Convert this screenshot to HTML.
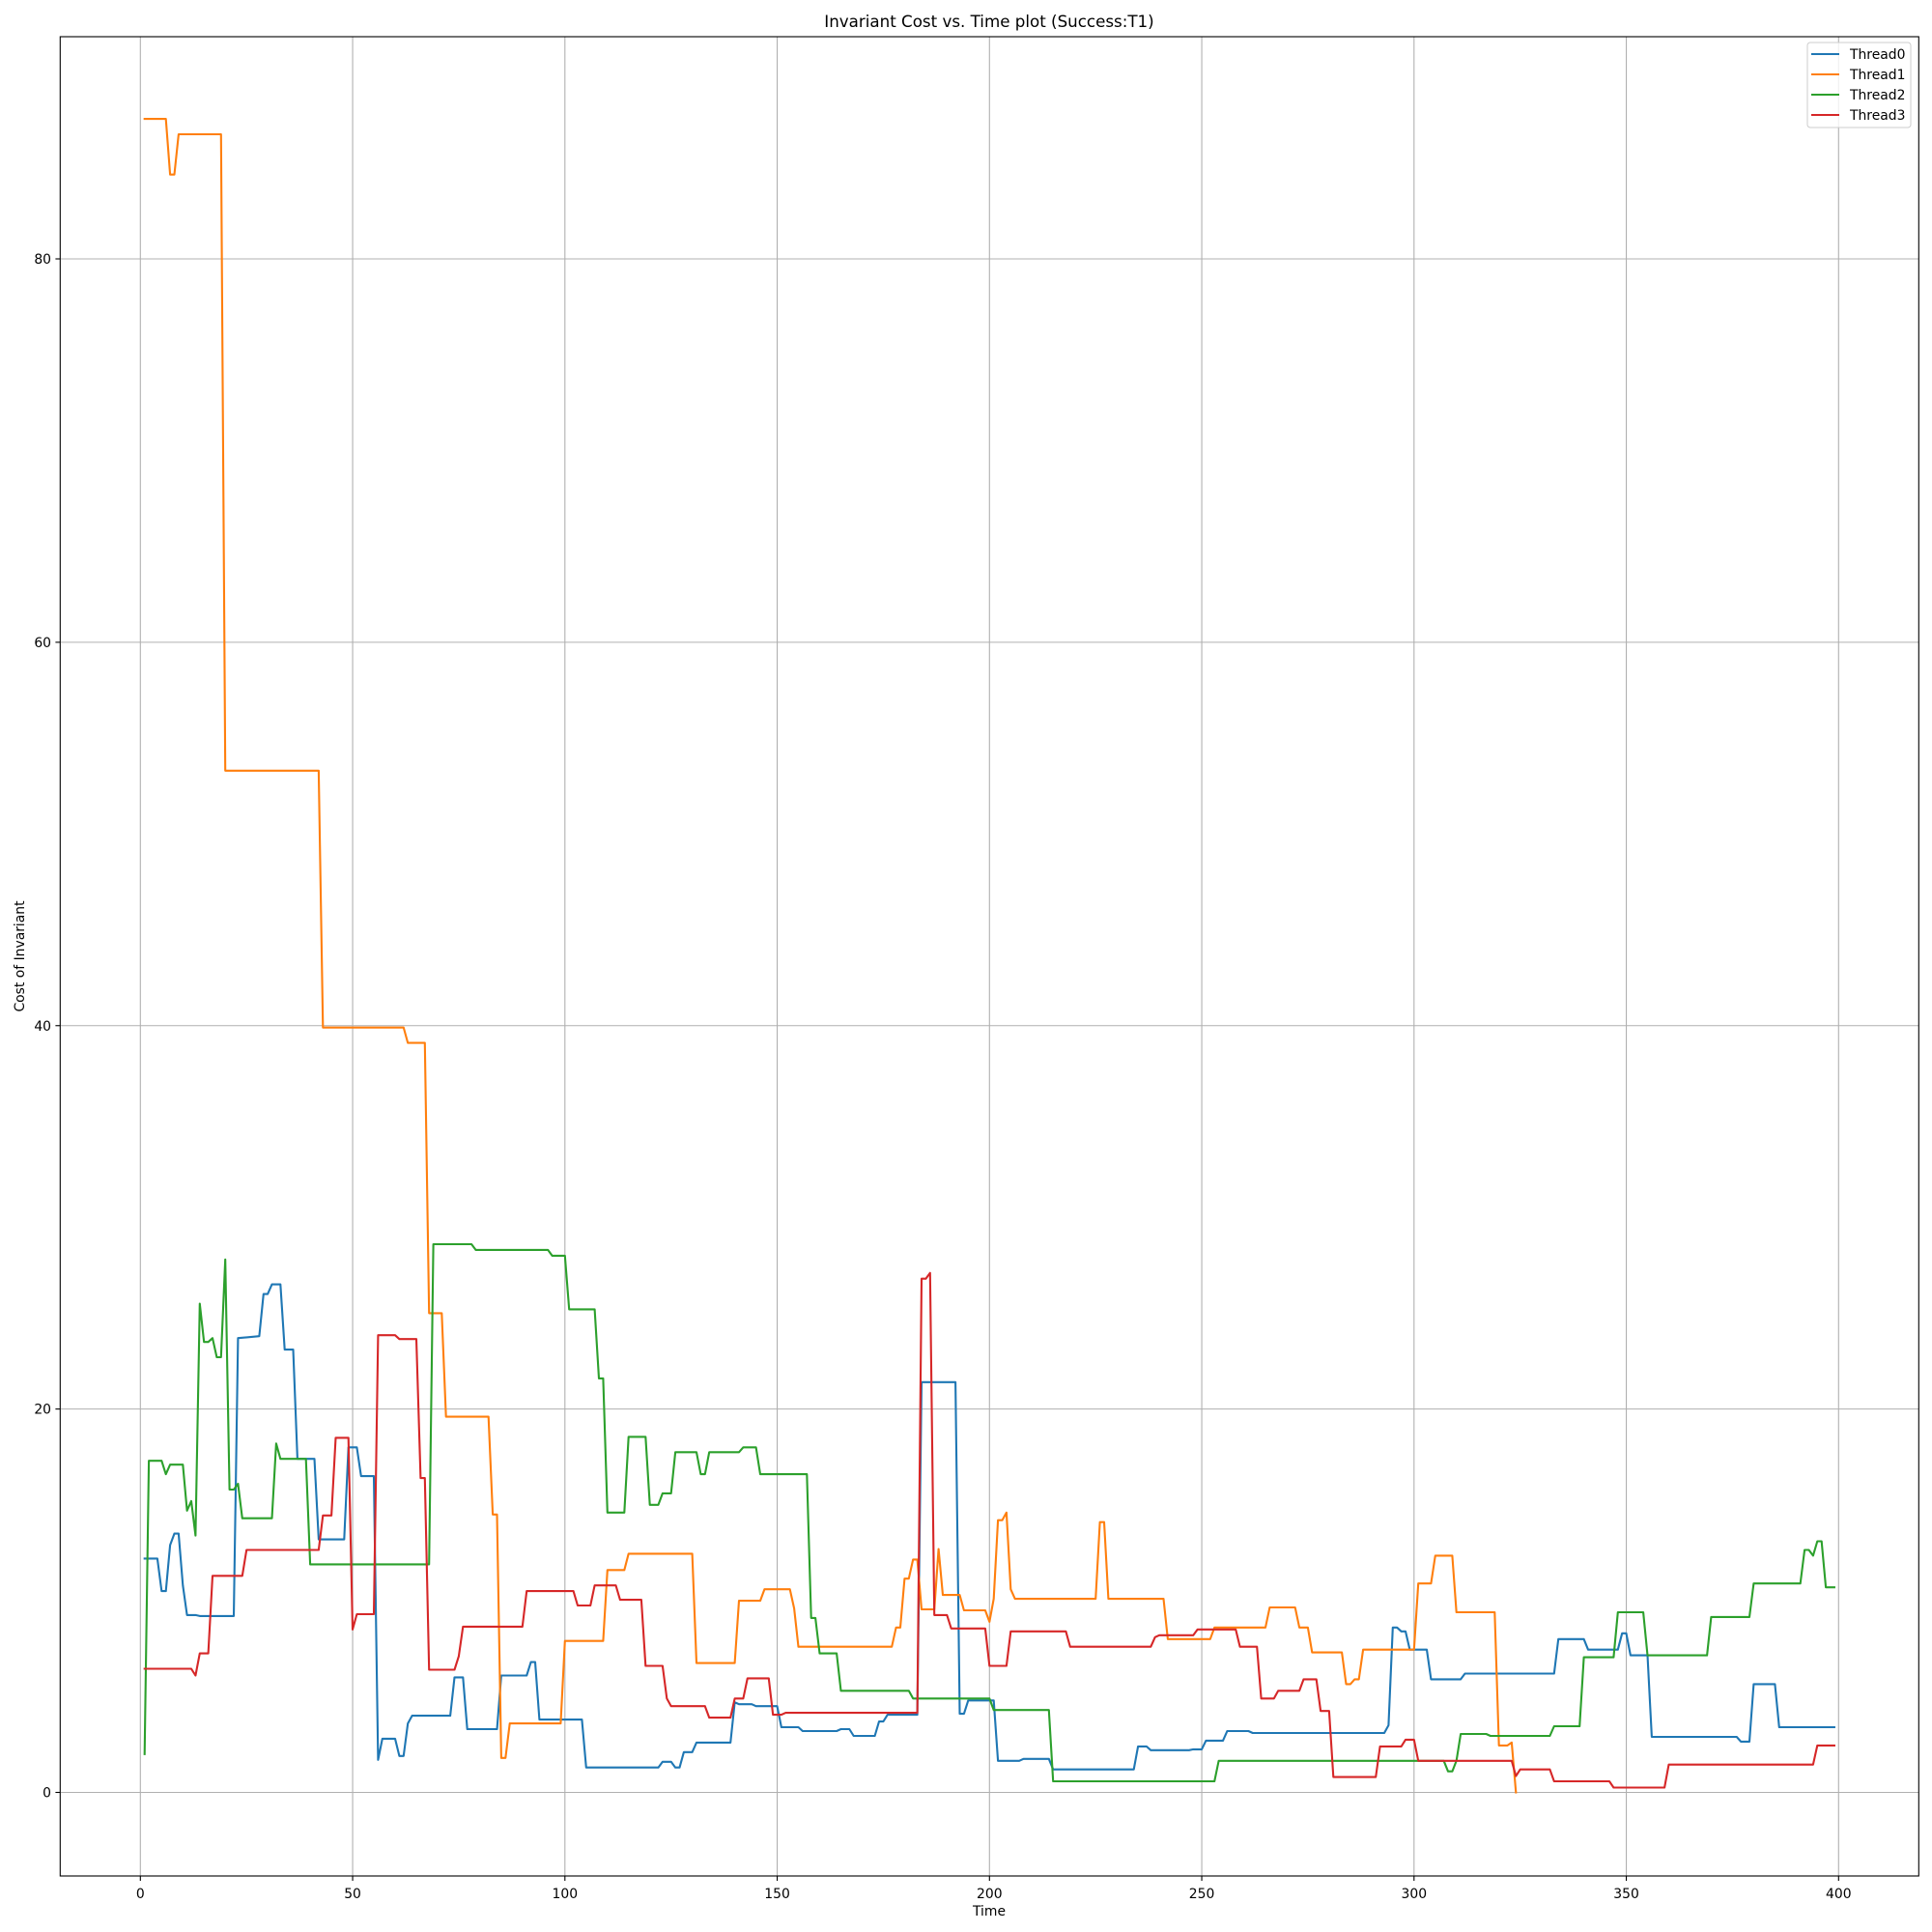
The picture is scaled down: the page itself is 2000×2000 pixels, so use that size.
<!DOCTYPE html>
<html><head><meta charset="utf-8"><style>
html,body{margin:0;padding:0;background:#fff;}
svg{display:block;font-family:"DejaVu Sans","Liberation Sans",sans-serif;}
</style></head><body>
<svg id="chart" width="2000" height="2000" viewBox="0 0 2000 2000" xmlns="http://www.w3.org/2000/svg">
<rect x="0" y="0" width="2000" height="2000" fill="#fff"/>
<g id="grid"></g>
<g id="series"></g>
<rect x="62.3" y="38" width="1924" height="1904" fill="none" stroke="#000" stroke-width="1.1"/>
<g id="ticks"></g>
<text x="1024" y="28" font-size="16.7" text-anchor="middle">Invariant Cost vs. Time plot (Success:T1)</text>
<text x="1024" y="1983" font-size="13.9" text-anchor="middle">Time</text>
<text x="25" y="990" font-size="13.9" text-anchor="middle" transform="rotate(-90 25 990)">Cost of Invariant</text>
<g id="legend">
<rect x="1871" y="44" width="107" height="88" rx="3" fill="#fff" fill-opacity="0.8" stroke="#ccc" stroke-width="1"/>
</g>
</svg>
<script>
const xTicks = [0, 50, 100, 150, 200, 250, 300, 350, 400];
const yTicks = [0, 20, 40, 60, 80];
const seriesNames = ["Thread0", "Thread1", "Thread2", "Thread3"];
const seriesColors = ["#1f77b4", "#ff7f0e", "#2ca02c", "#d62728"];

const t0 = [1,4,5,6,7,8,9,10,11,13,14,22,23,28,29,30,31,33,34,36,37,41,42,48,49,51,52,55,56,57,60,61,62,63,64,73,74,76,77,84,85,91,92,93,94,104,105,122,123,125,126,127,128,130,131,139,140,141,144,145,150,151,155,156,164,165,167,168,173,174,175,176,183,184,192,193,194,195,201,202,207,208,214,215,234,235,237,238,247,248,250,251,255,256,261,262,293,294,295,296,297,298,299,303,304,311,312,333,334,340,341,348,349,350,351,355,356,376,377,379,380,385,386,399];
const v0 = [12.2,12.2,10.5,10.5,12.9,13.5,13.5,10.8,9.25,9.25,9.2,9.2,23.7,23.8,26.0,26.0,26.5,26.5,23.1,23.1,17.4,17.4,13.2,13.2,18.0,18.0,16.5,16.5,1.7,2.8,2.8,1.9,1.9,3.6,4.0,4.0,6.0,6.0,3.3,3.3,6.1,6.1,6.8,6.8,3.8,3.8,1.3,1.3,1.6,1.6,1.3,1.3,2.1,2.1,2.6,2.6,4.7,4.6,4.6,4.5,4.5,3.4,3.4,3.2,3.2,3.3,3.3,2.95,2.95,3.7,3.7,4.05,4.05,21.4,21.4,4.1,4.1,4.8,4.8,1.65,1.65,1.75,1.75,1.2,1.2,2.4,2.4,2.2,2.2,2.25,2.25,2.7,2.7,3.2,3.2,3.1,3.1,3.5,8.6,8.6,8.4,8.4,7.45,7.45,5.9,5.9,6.2,6.2,8.0,8.0,7.45,7.45,8.3,8.3,7.15,7.15,2.9,2.9,2.65,2.65,5.65,5.65,3.4,3.4];

const t1 = [1,6,7,8,9,19,20,42,43,62,63,67,68,71,72,82,83,84,85,86,87,99,100,109,110,114,115,130,131,140,141,146,147,153,154,155,177,178,179,180,181,182,183,184,187,188,189,193,194,199,200,201,202,203,204,205,206,225,226,227,228,241,242,252,253,265,266,272,273,275,276,283,284,285,286,287,288,300,301,304,305,309,310,319,320,322,323,324];
const v1 = [87.3,87.3,84.4,84.4,86.5,86.5,53.3,53.3,39.9,39.9,39.1,39.1,25.0,25.0,19.6,19.6,14.5,14.5,1.8,1.8,3.6,3.6,7.9,7.9,11.6,11.6,12.45,12.45,6.75,6.75,10.0,10.0,10.6,10.6,9.6,7.6,7.6,8.6,8.6,11.15,11.15,12.15,12.15,9.55,9.55,12.7,10.3,10.3,9.5,9.5,8.9,10.1,14.2,14.2,14.6,10.6,10.1,10.1,14.1,14.1,10.1,10.1,8.0,8.0,8.6,8.6,9.65,9.65,8.6,8.6,7.3,7.3,5.65,5.65,5.9,5.9,7.45,7.45,10.9,10.9,12.35,12.35,9.4,9.4,2.45,2.45,2.6,0];

const t2 = [1,2,5,6,7,10,11,12,13,14,15,16,17,18,19,20,21,22,23,24,31,32,33,39,40,68,69,78,79,96,97,100,101,107,108,109,110,114,115,119,120,122,123,125,126,131,132,133,134,141,142,145,146,157,158,159,160,164,165,181,182,200,201,214,215,253,254,307,308,309,310,311,317,318,332,333,339,340,347,348,354,355,369,370,379,380,391,392,393,394,395,396,397,399];
const v2 = [2.0,17.3,17.3,16.6,17.1,17.1,14.7,15.2,13.4,25.5,23.5,23.5,23.7,22.7,22.7,27.8,15.8,15.8,16.1,14.3,14.3,18.2,17.4,17.4,11.9,11.9,28.6,28.6,28.3,28.3,28.0,28.0,25.2,25.2,21.6,21.6,14.6,14.6,18.55,18.55,15.0,15.0,15.6,15.6,17.75,17.75,16.6,16.6,17.75,17.75,18.0,18.0,16.6,16.6,9.1,9.1,7.25,7.25,5.3,5.3,4.9,4.9,4.3,4.3,0.58,0.58,1.65,1.65,1.1,1.1,1.65,3.05,3.05,2.95,2.95,3.45,3.45,7.05,7.05,9.4,9.4,7.15,7.15,9.15,9.15,10.9,10.9,12.65,12.65,12.35,13.1,13.1,10.7,10.7];

const t3 = [1,12,13,14,16,17,24,25,42,43,45,46,49,50,51,55,56,60,61,65,66,67,68,74,75,76,90,91,102,103,106,107,112,113,118,119,123,124,125,133,134,139,140,142,143,148,149,151,152,183,184,185,186,187,190,191,199,200,204,205,218,219,238,239,240,248,249,258,259,263,264,267,268,273,274,277,278,280,281,291,292,297,298,300,301,323,324,325,332,333,346,347,359,360,394,395,399];
const v3 = [6.45,6.45,6.1,7.25,7.25,11.3,11.3,12.65,12.65,14.45,14.45,18.5,18.5,8.5,9.3,9.3,23.85,23.85,23.65,23.65,16.4,16.4,6.4,6.4,7.1,8.65,8.65,10.5,10.5,9.75,9.75,10.8,10.8,10.05,10.05,6.6,6.6,4.9,4.5,4.5,3.9,3.9,4.9,4.9,5.95,5.95,4.05,4.05,4.15,4.15,26.8,26.8,27.1,9.25,9.25,8.55,8.55,6.6,6.6,8.4,8.4,7.6,7.6,8.1,8.2,8.2,8.5,8.5,7.6,7.6,4.9,4.9,5.3,5.3,5.9,5.9,4.25,4.25,0.8,0.8,2.4,2.4,2.75,2.75,1.65,1.65,0.85,1.2,1.2,0.58,0.58,0.25,0.25,1.45,1.45,2.45,2.45];

const seriesT = [t0, t1, t2, t3];
const seriesV = [v0, v1, v2, v3];

const X0 = 145.3, XPU = (1903.3 - 145.3) / 400;
const Y0 = 1855.5, YPU = (1855.5 - 268) / 80;
function xs(t) { return X0 + t * XPU; }
function ys(v) { return Y0 - v * YPU; }
const NS = "http://www.w3.org/2000/svg";
function mk(tag, attrs, parent) {
  const e = document.createElementNS(NS, tag);
  for (const k in attrs) e.setAttribute(k, attrs[k]);
  parent.appendChild(e);
  return e;
}
const grid = document.getElementById("grid");
const ticks = document.getElementById("ticks");
xTicks.forEach(function (t) {
  const x = xs(t);
  const gl = mk("line", {x1: x, x2: x, y1: 38, y2: 1942, stroke: "#b0b0b0", "stroke-width": 1.1}, grid);
  
  
  const tk = mk("line", {x1: x, x2: x, y1: 1942, y2: 1947, stroke: "#000", "stroke-width": 1.1}, ticks);
  
  
  const lb = mk("text", {x: x, y: 1965, "font-size": 13.9, "text-anchor": "middle"}, ticks);
  
  
  lb.textContent = String(t);
});
yTicks.forEach(function (v) {
  const y = ys(v);
  const gl = mk("line", {x1: 62.3, x2: 1986.3, y1: y, y2: y, stroke: "#b0b0b0", "stroke-width": 1.1}, grid);
  
  
  const tk = mk("line", {x1: 57.4, x2: 62.3, y1: y, y2: y, stroke: "#000", "stroke-width": 1.1}, ticks);
  
  
  const lb = mk("text", {x: 53, y: y + 5, "font-size": 13.9, "text-anchor": "end"}, ticks);
  
  
  lb.textContent = String(v);
});
const sg = document.getElementById("series");
seriesT.forEach(function (ts, i) {
  const vs = seriesV[i];
  const pts = ts.map(function (t, j) { return xs(t).toFixed(1) + "," + ys(vs[j]).toFixed(1); }).join(" ");
  const pl = mk("polyline", {points: pts, fill: "none", stroke: seriesColors[i], "stroke-width": 2.1, "stroke-linejoin": "round", "stroke-linecap": "square"}, sg);
  
  
});
const lg = document.getElementById("legend");
seriesNames.forEach(function (n, i) {
  const y = 56 + i * 21;
  const ll = mk("line", {x1: 1875, x2: 1904, y1: y, y2: y, stroke: seriesColors[i], "stroke-width": 2.1}, lg);
  
  
  const tx = mk("text", {x: 1915, y: y + 5, "font-size": 13.9}, lg);
  
  
  tx.textContent = n;
});
</script>
</body></html>
